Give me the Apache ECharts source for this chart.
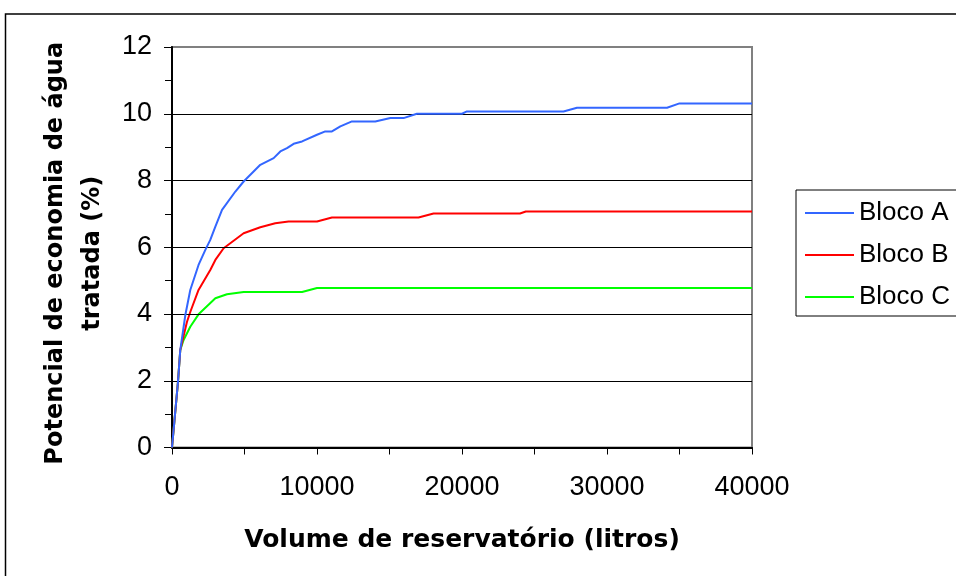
<!DOCTYPE html>
<html>
<head>
<meta charset="utf-8">
<script src="https://cdn.jsdelivr.net/npm/echarts@6/dist/echarts.min.js"></script>
<style>html,body{margin:0;padding:0;background:#fff}#c{width:956px;height:576px}</style>
</head>
<body>
<div id="c"></div>
<script>
// ---- data ----
var seriesNames = ['Bloco A', 'Bloco B', 'Bloco C'];
var blocoA_vol = [0, 410, 570, 920, 1260, 1830, 2300, 2640, 2990, 3450, 4370, 4940, 6090, 7010, 7470, 7930, 8390, 8970, 10000, 10570, 11030, 11610, 12410, 14020, 15060, 15970, 16890, 20000, 20340, 27000, 27930, 34140, 35000, 40000];
var blocoA_pct = [0, 1.95, 2.92, 3.97, 4.72, 5.47, 5.92, 6.22, 6.62, 7.12, 7.67, 7.97, 8.47, 8.67, 8.87, 8.97, 9.10, 9.17, 9.37, 9.47, 9.47, 9.62, 9.77, 9.77, 9.87, 9.87, 10.0, 10.0, 10.07, 10.07, 10.18, 10.18, 10.31, 10.31];
var blocoB_vol = [0, 410, 570, 1030, 1260, 1830, 2640, 2990, 3560, 4940, 6090, 7120, 8040, 10000, 11030, 17000, 18040, 24000, 24400, 40000];
var blocoB_pct = [0, 1.95, 2.92, 3.76, 4.06, 4.72, 5.32, 5.62, 5.97, 6.42, 6.60, 6.72, 6.77, 6.77, 6.89, 6.89, 7.01, 7.01, 7.07, 7.07];
var blocoC_vol = [0, 410, 570, 800, 1260, 1830, 2990, 3790, 4940, 8970, 10000, 40000];
var blocoC_pct = [0, 1.95, 2.92, 3.22, 3.62, 3.99, 4.47, 4.59, 4.66, 4.66, 4.78, 4.78];
var gridValues = [2, 4, 6, 8, 10];
var xTitle = 'Volume de reservatório (litros)';
var yTitle = 'Potencial de economia de água\ntratada (%)';

function zip(a, b) { return a.map(function (v, i) { return [v, b[i]]; }); }

var FONT = '"Liberation Sans", Arial, sans-serif';
var TFONT = '"DejaVu Sans", "Liberation Sans", sans-serif';
var chart = echarts.init(document.getElementById('c'), null, { renderer: 'canvas' });

var colors = ['#3366ff', '#ff0000', '#00ff00'];
var datasets = [zip(blocoA_vol, blocoA_pct), zip(blocoB_vol, blocoB_pct), zip(blocoC_vol, blocoC_pct)];

var series = datasets.map(function (d, i) {
  return {
    name: seriesNames[i],
    type: 'line',
    data: d,
    showSymbol: false,
    symbol: 'none',
    lineStyle: { color: colors[i], width: 2 },
    itemStyle: { color: colors[i] },
    z: 5 - i,
    animation: false
  };
});
series.push({
  type: 'line',
  data: [],
  silent: true,
  markLine: {
    silent: true,
    symbol: 'none',
    animation: false,
    label: { show: false },
    lineStyle: { color: '#000', width: 1, type: 'solid' },
    data: gridValues.map(function (v) { return { yAxis: v }; })
  },
  z: 1
});

chart.setOption({
  animation: false,
  backgroundColor: '#fff',
  textStyle: { fontFamily: FONT },
  graphic: [{
    type: 'rect',
    shape: { x: 5.5, y: 14, width: 1000, height: 600 },
    style: { fill: 'none', stroke: '#000', lineWidth: 1.5 },
    z: -10
  }],
  grid: {
    left: 172, right: 204, top: 47, bottom: 128.5,
    show: true, borderColor: '#808080', borderWidth: 2, backgroundColor: '#fff'
  },
  legend: {
    orient: 'vertical',
    left: 796, top: 190,
    padding: [10, 30, 6, 9],
    itemWidth: 49, itemHeight: 2, itemGap: 16,
    borderColor: '#000', borderWidth: 1,
    backgroundColor: '#fff',
    textStyle: { fontSize: 26, lineHeight: 26, color: '#000', fontFamily: FONT },
    data: seriesNames.map(function (n) { return { name: n, icon: 'rect' }; })
  },
  xAxis: {
    type: 'value', min: 0, max: 40000, interval: 10000,
    name: xTitle, nameLocation: 'middle', nameGap: 80,
    nameTextStyle: { fontSize: 25, fontWeight: 'bold', color: '#000', fontFamily: TFONT },
    axisLine: { show: true, lineStyle: { color: '#000', width: 2 } },
    axisTick: { show: true, length: 7, lineStyle: { color: '#000' } },
    minorTick: { show: true, splitNumber: 2, length: 7, lineStyle: { color: '#000' } },
    axisLabel: { fontSize: 27, color: '#000', margin: 27, fontFamily: FONT, formatter: function (v) { return String(v); } },
    splitLine: { show: false }
  },
  yAxis: {
    type: 'value', min: 0, max: 12, interval: 2,
    name: yTitle, nameLocation: 'middle', nameGap: 61, nameRotate: 90,
    nameTextStyle: { fontSize: 24, fontWeight: 'bold', color: '#000', lineHeight: 37, align: 'center', fontFamily: TFONT, padding: [0, 12, 0, 0] },
    axisLine: { show: true, lineStyle: { color: '#000', width: 2 } },
    axisTick: { show: true, length: 8, lineStyle: { color: '#000' } },
    minorTick: { show: true, splitNumber: 2, length: 7, lineStyle: { color: '#000' } },
    axisLabel: { fontSize: 27, color: '#000', margin: 20, fontFamily: FONT },
    splitLine: { show: false }
  },
  series: series
});
</script>
</body>
</html>
